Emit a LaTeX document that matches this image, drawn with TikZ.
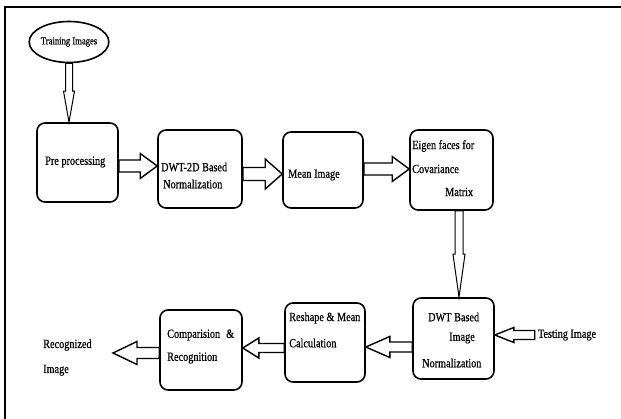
\documentclass[tikz,border=0pt]{standalone}
\usepackage{fontspec}
\setmainfont{Liberation Serif}[FakeStretch=0.82, FakeBold=0.6]
\usetikzlibrary{calc,shapes.geometric}
\tikzset{
  box/.style={draw, line width=1.6pt, rounded corners=8pt, inner sep=0pt},
  lbl/.style={anchor=west, inner sep=0pt, font=\fontsize{12.5}{14}\selectfont},
  arrline/.style={draw, line width=1.4pt, line join=miter},
  varrline/.style={draw, line width=1pt, line join=miter},
}
\newcommand{\blockarr}[6]{%
  \path ($(#2)!#5!(#1)$) coordinate (hb);
  \draw[#6] ($(#1)!#3!90:(#2)$) -- ($(hb)!#3!90:(#2)$) -- ($(hb)!#4!90:(#2)$) -- (#2)
    -- ($(hb)!#4!-90:(#2)$) -- ($(hb)!#3!-90:(#2)$) -- ($(#1)!#3!-90:(#2)$) -- cycle;
}
\begin{document}
\begin{tikzpicture}[x=1pt,y=-1pt]
\useasboundingbox (0,0) rectangle (621,419);
% frame (top and left edges)
\draw[line width=2pt] (5,419) -- (5,7) -- (621,7);

% nodes
\node[ellipse, draw, line width=1.6pt, minimum width=72pt, minimum height=41pt, inner sep=0pt,
      font=\fontsize{10.5}{12}\selectfont] (train) at (69,42) {Training Images};
\node[box, minimum width=81pt, minimum height=79pt] (pre) at (77.5,162.5) {};
\node[box, minimum width=84pt, minimum height=78pt] (dwt) at (200,169) {};
\node[box, minimum width=80pt, minimum height=76pt] (mean) at (323,170) {};
\node[box, minimum width=83pt, minimum height=80pt] (eigen) at (451.5,170) {};
\node[box, minimum width=81pt, minimum height=81pt] (dwtb) at (453.5,338.5) {};
\node[box, minimum width=80pt, minimum height=79pt] (resh) at (325,342.5) {};
\node[box, minimum width=82pt, minimum height=80pt] (comp) at (201,350) {};
\node[inner sep=3pt, font=\fontsize{12.5}{14}\selectfont] (test) at (567,335) {Testing Image};
\node[lbl, align=left, font=\fontsize{12.5}{25}\selectfont] (recog) at (43,357.5) {Recognized\\Image};
\coordinate (rtip) at (113,353);

% labels inside boxes
\node[lbl] (tpre) at (45,162) {Pre processing};
\node[lbl] (tdwt1) at (161,167) {DWT-2D Based};
\node[lbl] (tdwt2) at (163,184) {Normalization};
\node[lbl] (tmean) at (288,175) {Mean Image};
\node[lbl] (teig1) at (412,146) {Eigen faces for};
\node[lbl] (teig2) at (412,169) {Covariance};
\node[lbl] (teig3) at (445,192) {Matrix};
\node[lbl] (tdb1) at (428,317) {DWT Based};
\node[lbl] (tdb2) at (449,338) {Image};
\node[lbl] (tdb3) at (422,363) {Normalization};
\node[lbl] (trs1) at (289,318) {Reshape \& Mean};
\node[lbl] (trs2) at (289,343) {Calculation};
\node[lbl] (tcp1) at (167,335) {Comparision\hspace{6pt}\&};
\node[lbl] (tcp2) at (167,358) {Recognition};

% connector end points
\coordinate (a1s) at (train.south);
\coordinate (a1e) at (pre.north -| train.south);
\coordinate (a2s) at (pre.east |- 0,166);
\coordinate (a2e) at (dwt.west |- 0,166);
\coordinate (a3s) at (dwt.east |- 0,174);
\coordinate (a3e) at (mean.west |- 0,174);
\coordinate (a4s) at (mean.east |- 0,169);
\coordinate (a4e) at (eigen.west |- 0,169);
\coordinate (a5s) at (eigen.south -| 459,0);
\coordinate (a5e) at (dwtb.north -| 459,0);
\coordinate (a6s) at (test.west);
\coordinate (a6e) at (dwtb.east |- test.west);
\coordinate (a7s) at (dwtb.west |- 0,347);
\coordinate (a7e) at (resh.east |- 0,347);
\coordinate (a8s) at (resh.west |- 0,348);
\coordinate (a8e) at (comp.east |- 0,348);
\coordinate (a9s) at (comp.west |- 0,353);

% block arrows
\blockarr{a1s}{a1e}{3.5pt}{5.5pt}{31pt}{varrline}
\blockarr{a2s}{a2e}{6pt}{12.5pt}{17pt}{arrline}
\blockarr{a3s}{a3e}{6.5pt}{15pt}{17pt}{arrline}
\blockarr{a4s}{a4e}{6pt}{12.5pt}{17pt}{arrline}
\blockarr{a5s}{a5e}{4pt}{6pt}{43pt}{varrline}
\blockarr{a6s}{a6e}{4.5pt}{7.5pt}{19pt}{arrline}
\blockarr{a7s}{a7e}{5pt}{10.5pt}{24pt}{arrline}
\blockarr{a8s}{a8e}{4.5pt}{10pt}{16pt}{arrline}
\blockarr{a9s}{rtip}{5.5pt}{11.5pt}{24pt}{arrline}
\end{tikzpicture}
\end{document}
